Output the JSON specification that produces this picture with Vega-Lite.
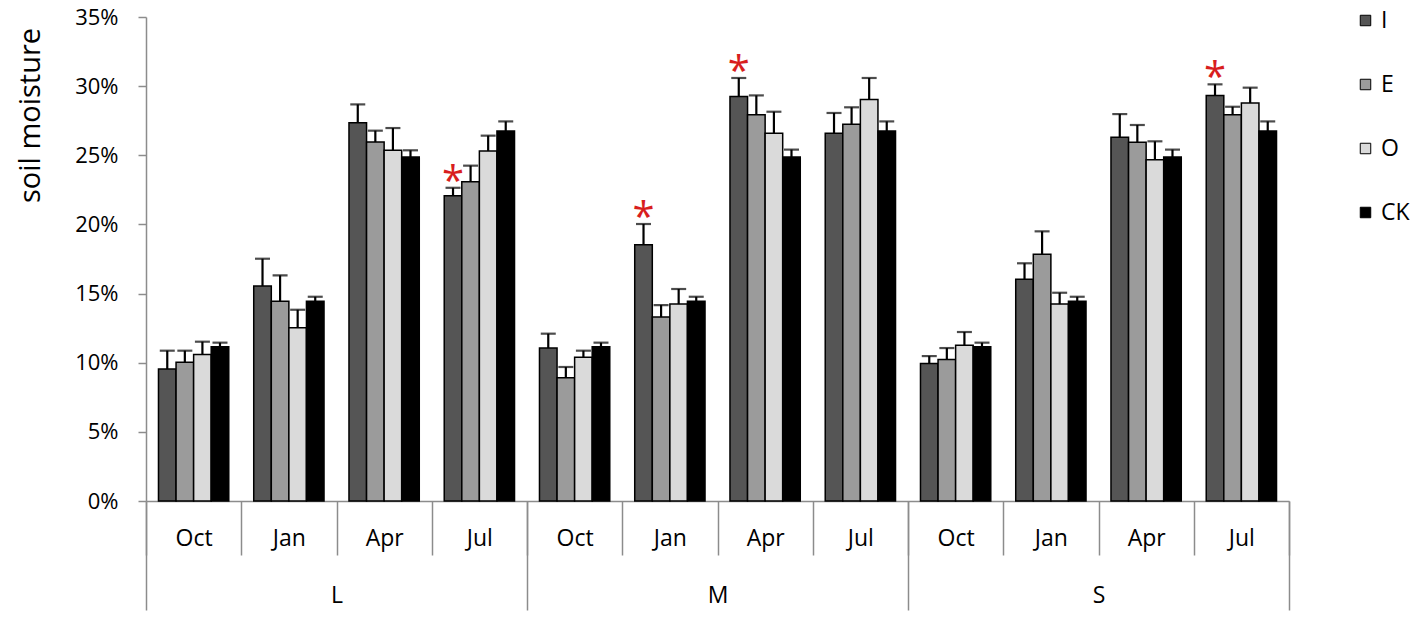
{
  "$schema": "https://vega.github.io/schema/vega-lite/v6.json",
  "autosize": {"type": "none"},
  "padding": {"left": 146, "top": 17, "right": 129, "bottom": 122},
  "width": 1143,
  "height": 484,
  "background": "white",
  "config": {
    "view": {"stroke": null},
    "font": "Open Sans",
    "axis": {"labelFont": "Open Sans", "titleFont": "Open Sans", "labelColor": "black", "titleColor": "black", "titleFontWeight": "normal"}
  },
  "data": {
    "values": [
      {"site": "L", "month": "Oct", "grp": "L-Oct", "trt": "I", "value": 0.0954, "hi": 0.1087, "sig": false},
      {"site": "L", "month": "Oct", "grp": "L-Oct", "trt": "E", "value": 0.1003, "hi": 0.1087, "sig": false},
      {"site": "L", "month": "Oct", "grp": "L-Oct", "trt": "O", "value": 0.1060, "hi": 0.1152, "sig": false},
      {"site": "L", "month": "Oct", "grp": "L-Oct", "trt": "CK", "value": 0.1116, "hi": 0.1145, "sig": false},
      {"site": "L", "month": "Jan", "grp": "L-Jan", "trt": "I", "value": 0.1555, "hi": 0.1752, "sig": false},
      {"site": "L", "month": "Jan", "grp": "L-Jan", "trt": "E", "value": 0.1444, "hi": 0.1632, "sig": false},
      {"site": "L", "month": "Jan", "grp": "L-Jan", "trt": "O", "value": 0.1253, "hi": 0.1383, "sig": false},
      {"site": "L", "month": "Jan", "grp": "L-Jan", "trt": "CK", "value": 0.1444, "hi": 0.1477, "sig": false},
      {"site": "L", "month": "Apr", "grp": "L-Apr", "trt": "I", "value": 0.2736, "hi": 0.2868, "sig": false},
      {"site": "L", "month": "Apr", "grp": "L-Apr", "trt": "E", "value": 0.2596, "hi": 0.2678, "sig": false},
      {"site": "L", "month": "Apr", "grp": "L-Apr", "trt": "O", "value": 0.2536, "hi": 0.2697, "sig": false},
      {"site": "L", "month": "Apr", "grp": "L-Apr", "trt": "CK", "value": 0.2487, "hi": 0.2536, "sig": false},
      {"site": "L", "month": "Jul", "grp": "L-Jul", "trt": "I", "value": 0.2208, "hi": 0.2265, "sig": true},
      {"site": "L", "month": "Jul", "grp": "L-Jul", "trt": "E", "value": 0.2309, "hi": 0.2425, "sig": false},
      {"site": "L", "month": "Jul", "grp": "L-Jul", "trt": "O", "value": 0.2531, "hi": 0.2642, "sig": false},
      {"site": "L", "month": "Jul", "grp": "L-Jul", "trt": "CK", "value": 0.2675, "hi": 0.2745, "sig": false},
      {"site": "M", "month": "Oct", "grp": "M-Oct", "trt": "I", "value": 0.1106, "hi": 0.1210, "sig": false},
      {"site": "M", "month": "Oct", "grp": "M-Oct", "trt": "E", "value": 0.0892, "hi": 0.0969, "sig": false},
      {"site": "M", "month": "Oct", "grp": "M-Oct", "trt": "O", "value": 0.1039, "hi": 0.1087, "sig": false},
      {"site": "M", "month": "Oct", "grp": "M-Oct", "trt": "CK", "value": 0.1116, "hi": 0.1145, "sig": false},
      {"site": "M", "month": "Jan", "grp": "M-Jan", "trt": "I", "value": 0.1853, "hi": 0.2003, "sig": true},
      {"site": "M", "month": "Jan", "grp": "M-Jan", "trt": "E", "value": 0.1330, "hi": 0.1417, "sig": false},
      {"site": "M", "month": "Jan", "grp": "M-Jan", "trt": "O", "value": 0.1424, "hi": 0.1533, "sig": false},
      {"site": "M", "month": "Jan", "grp": "M-Jan", "trt": "CK", "value": 0.1444, "hi": 0.1477, "sig": false},
      {"site": "M", "month": "Apr", "grp": "M-Apr", "trt": "I", "value": 0.2926, "hi": 0.3059, "sig": true},
      {"site": "M", "month": "Apr", "grp": "M-Apr", "trt": "E", "value": 0.2793, "hi": 0.2933, "sig": false},
      {"site": "M", "month": "Apr", "grp": "M-Apr", "trt": "O", "value": 0.2659, "hi": 0.2815, "sig": false},
      {"site": "M", "month": "Apr", "grp": "M-Apr", "trt": "CK", "value": 0.2487, "hi": 0.2541, "sig": false},
      {"site": "M", "month": "Jul", "grp": "M-Jul", "trt": "I", "value": 0.2659, "hi": 0.2806, "sig": false},
      {"site": "M", "month": "Jul", "grp": "M-Jul", "trt": "E", "value": 0.2724, "hi": 0.2847, "sig": false},
      {"site": "M", "month": "Jul", "grp": "M-Jul", "trt": "O", "value": 0.2904, "hi": 0.3059, "sig": false},
      {"site": "M", "month": "Jul", "grp": "M-Jul", "trt": "CK", "value": 0.2675, "hi": 0.2745, "sig": false},
      {"site": "S", "month": "Oct", "grp": "S-Oct", "trt": "I", "value": 0.0995, "hi": 0.1048, "sig": false},
      {"site": "S", "month": "Oct", "grp": "S-Oct", "trt": "E", "value": 0.1024, "hi": 0.1106, "sig": false},
      {"site": "S", "month": "Oct", "grp": "S-Oct", "trt": "O", "value": 0.1126, "hi": 0.1222, "sig": false},
      {"site": "S", "month": "Oct", "grp": "S-Oct", "trt": "CK", "value": 0.1116, "hi": 0.1145, "sig": false},
      {"site": "S", "month": "Jan", "grp": "S-Jan", "trt": "I", "value": 0.1603, "hi": 0.1719, "sig": false},
      {"site": "S", "month": "Jan", "grp": "S-Jan", "trt": "E", "value": 0.1784, "hi": 0.1950, "sig": false},
      {"site": "S", "month": "Jan", "grp": "S-Jan", "trt": "O", "value": 0.1424, "hi": 0.1506, "sig": false},
      {"site": "S", "month": "Jan", "grp": "S-Jan", "trt": "CK", "value": 0.1444, "hi": 0.1477, "sig": false},
      {"site": "S", "month": "Apr", "grp": "S-Apr", "trt": "I", "value": 0.2630, "hi": 0.2798, "sig": false},
      {"site": "S", "month": "Apr", "grp": "S-Apr", "trt": "E", "value": 0.2594, "hi": 0.2719, "sig": false},
      {"site": "S", "month": "Apr", "grp": "S-Apr", "trt": "O", "value": 0.2468, "hi": 0.2601, "sig": false},
      {"site": "S", "month": "Apr", "grp": "S-Apr", "trt": "CK", "value": 0.2487, "hi": 0.2541, "sig": false},
      {"site": "S", "month": "Jul", "grp": "S-Jul", "trt": "I", "value": 0.2933, "hi": 0.3013, "sig": true},
      {"site": "S", "month": "Jul", "grp": "S-Jul", "trt": "E", "value": 0.2793, "hi": 0.2851, "sig": false},
      {"site": "S", "month": "Jul", "grp": "S-Jul", "trt": "O", "value": 0.2878, "hi": 0.2989, "sig": false},
      {"site": "S", "month": "Jul", "grp": "S-Jul", "trt": "CK", "value": 0.2675, "hi": 0.2745, "sig": false}
    ]
  },
  "layer": [
    {
      "encoding": {
        "x": {"field": "grp", "type": "nominal", "sort": null, "scale": {"paddingInner": 0, "paddingOuter": 0},
          "axis": {"orient": "bottom", "title": null, "labelExpr": "split(datum.label, '-')[1]", "tickBand": "extent", "tickSize": 54, "tickColor": "#8c8c8c", "tickWidth": 1.5, "domainColor": "#8c8c8c", "domainWidth": 1.5, "labelAngle": 0, "labelFontSize": 23, "labelPadding": -28, "labelBaseline": "top"}},
        "xOffset": {"field": "trt", "type": "nominal", "sort": ["I", "E", "O", "CK"], "scale": {"paddingInner": 0, "paddingOuter": 0.71}},
        "y": {"field": "value", "type": "quantitative", "scale": {"domain": [0, 0.35], "nice": false},
          "axis": {"title": "soil moisture", "values": [0, 0.05, 0.1, 0.15, 0.2, 0.25, 0.3, 0.35], "format": ".0%", "grid": false, "tickSize": 8, "tickColor": "#8c8c8c", "tickWidth": 1.5, "domainColor": "#8c8c8c", "domainWidth": 1.5, "labelFontSize": 22, "labelPadding": 20, "titleFontSize": 29, "titleX": -116, "titleY": 98, "titleAngle": -90, "titleAlign": "center", "titleBaseline": "middle"}}
      },
      "layer": [
        {
          "mark": {"type": "bar", "stroke": "black", "strokeWidth": 1.5},
          "encoding": {
            "fill": {"field": "trt", "type": "nominal", "sort": ["I", "E", "O", "CK"],
              "scale": {"domain": ["I", "E", "O", "CK"], "range": ["#555555", "#9b9b9b", "#dadada", "#000000"]},
              "legend": {"title": null, "orient": "none", "legendX": 1208, "legendY": -8, "symbolType": "square", "symbolSize": 110, "symbolStrokeColor": "black", "symbolStrokeWidth": 1, "labelFontSize": 23, "labelFont": "Open Sans", "labelColor": "black", "rowPadding": 40, "padding": 0, "labelOffset": 4}}
          }
        },
        {
          "mark": {"type": "rule", "color": "black", "strokeWidth": 2.2},
          "encoding": {"y2": {"field": "hi"}}
        },
        {
          "mark": {"type": "tick", "color": "black", "thickness": 2.2, "size": 15},
          "encoding": {"y": {"field": "hi", "type": "quantitative"}}
        },
        {
          "transform": [{"filter": "datum.sig"}],
          "mark": {"type": "text", "text": "*", "color": "#d81e1e", "fontSize": 40, "baseline": "alphabetic", "dy": 7},
          "encoding": {"y": {"field": "hi", "type": "quantitative"}}
        }
      ]
    },
    {
      "mark": {"type": "point", "opacity": 0},
      "encoding": {
        "x": {"field": "site", "type": "nominal", "sort": ["L", "M", "S"], "scale": {"paddingInner": 0, "paddingOuter": 0},
          "axis": {"orient": "bottom", "title": null, "domain": false, "tickBand": "extent", "tickSize": 109, "tickColor": "#8c8c8c", "tickWidth": 1.5, "labelAngle": 0, "labelFontSize": 23, "labelPadding": -26, "labelBaseline": "top"}},
        "y": {"field": "value", "type": "quantitative"}
      }
    }
  ],
  "resolve": {"scale": {"x": "independent"}, "axis": {"x": "independent"}}
}
